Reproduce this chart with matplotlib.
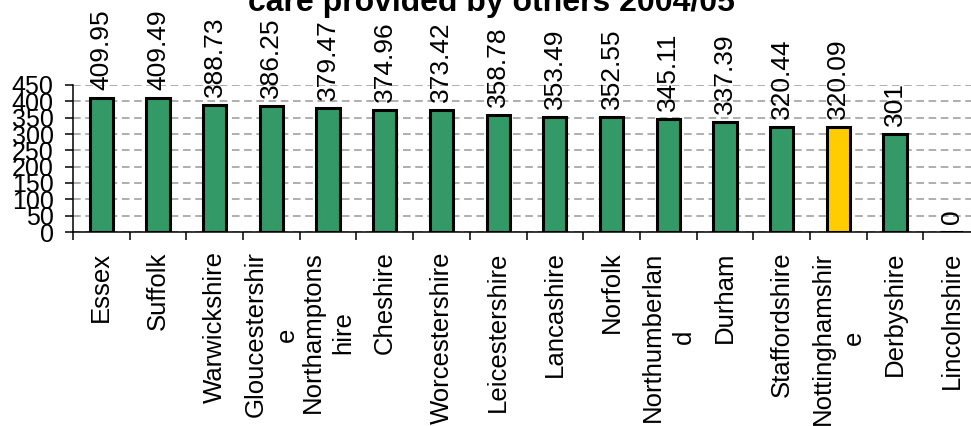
import matplotlib
matplotlib.use('Agg')
import matplotlib.pyplot as plt
import numpy as np

plt.rcParams['font.family'] = ['Liberation Sans', 'DejaVu Sans']

# Data
counties = ['Essex', 'Suffolk', 'Warwickshire', 'Gloucestershir\ne', 'Northamptons\nhire',
            'Cheshire', 'Worcestershire', 'Leicestershire', 'Lancashire', 'Norfolk',
            'Northumberlan\nd', 'Durham', 'Staffordshire', 'Nottinghamshir\ne',
            'Derbyshire', 'Lincolnshire']
values = [409.95, 409.49, 388.73, 386.25, 379.47, 374.96, 373.42, 358.78, 353.49,
          352.55, 345.11, 337.39, 320.44, 320.09, 301, 0]
value_labels = ['409.95', '409.49', '388.73', '386.25', '379.47', '374.96', '373.42',
                '358.78', '353.49', '352.55', '345.11', '337.39', '320.44', '320.09',
                '301', '0']
highlight = 'Nottinghamshir\ne'
yticks = [0, 50, 100, 150, 200, 250, 300, 350, 400, 450]

fig = plt.figure(figsize=(9.71, 4.26), dpi=100)
ax = fig.add_axes([73 / 971, 194 / 426, 907 / 971, 147 / 426])

x = np.arange(len(counties))
colors = ['#FFCC00' if c == highlight else '#339966' for c in counties]
ax.bar(x, values, width=0.41, color=colors, edgecolor='black', linewidth=2.2, zorder=3)

# value labels above the bars
for xi, v, lab in zip(x, values, value_labels):
    ax.annotate(lab, (xi, v), xytext=(0, 8), textcoords='offset pixels',
                rotation=90, ha='center', va='bottom', fontsize=19,
                annotation_clip=False)

ax.set_xlim(-0.5, len(counties) - 0.5)
ax.set_ylim(0, 450)
ax.set_yticks(yticks)
ax.set_yticklabels([str(t) for t in yticks], fontsize=18)
ax.yaxis.grid(True, color='#999999', linestyle=(0, (5, 3)), linewidth=1.1, zorder=0)

ax.set_xticks(x)
ax.set_xticklabels(counties, rotation=90, fontsize=18.5, va='top', ha='center',
                   multialignment='center', linespacing=1.35)
ax.set_xticks(np.arange(len(counties)) - 0.5, minor=True)
ax.tick_params(axis='x', which='major', length=0, pad=14)
ax.tick_params(axis='x', which='minor', length=6, width=1.1, direction='out')
ax.tick_params(axis='y', length=6, width=1.1, pad=8)

for s in ['top', 'right']:
    ax.spines[s].set_visible(False)
for s in ['left', 'bottom']:
    ax.spines[s].set_linewidth(1.1)

fig.text(491 / 971, 1 - 11 / 426, 'care provided by others 2004/05', ha='center',
         va='baseline', fontsize=23, fontweight='bold')

fig.savefig('out.png', dpi=100)
